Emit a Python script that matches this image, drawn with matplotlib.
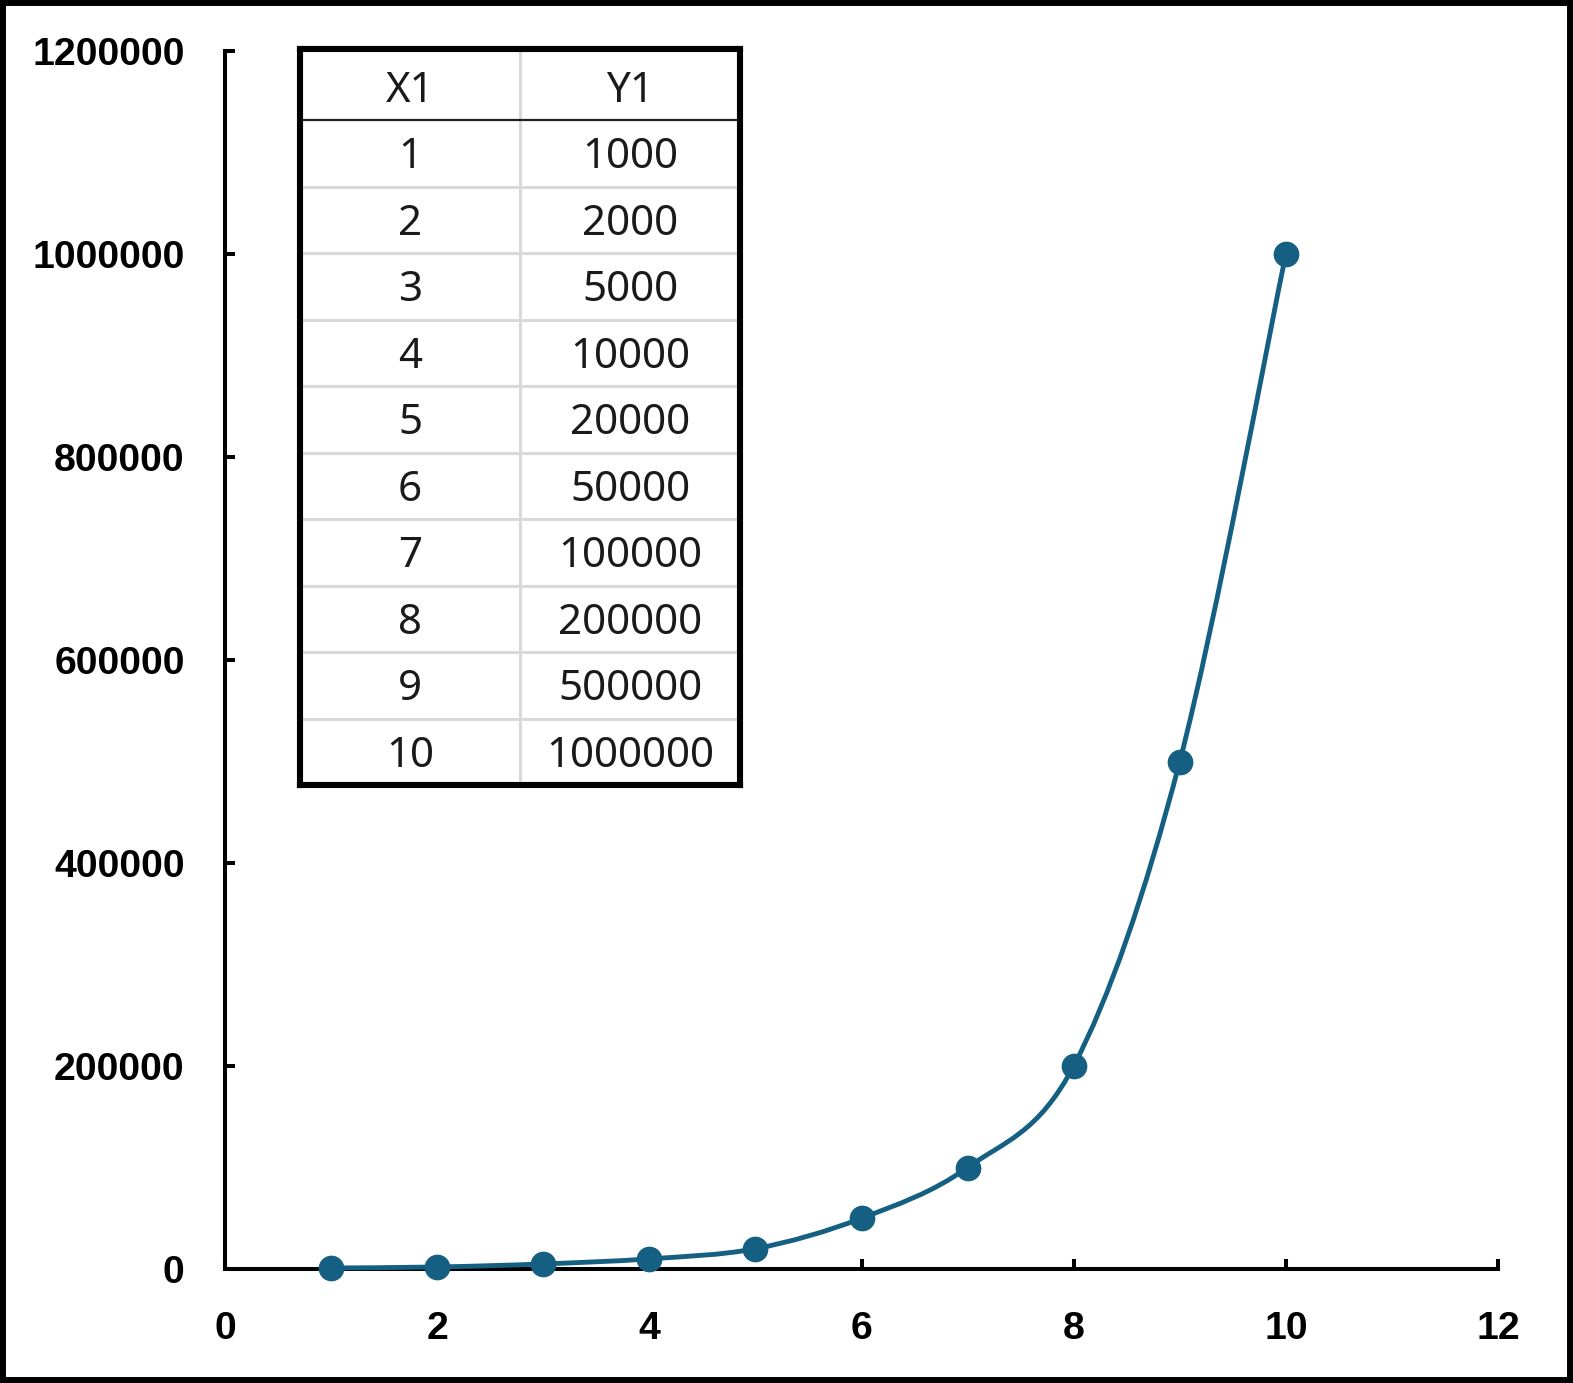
import matplotlib.pyplot as plt
import numpy as np
from matplotlib.path import Path
from matplotlib.patches import PathPatch, Rectangle

x1 = [1, 2, 3, 4, 5, 6, 7, 8, 9, 10]
y1 = [1000, 2000, 5000, 10000, 20000, 50000, 100000, 200000, 500000, 1000000]
col_labels = ['X1', 'Y1']
x_ticks = [0, 2, 4, 6, 8, 10, 12]
y_ticks = [0, 200000, 400000, 600000, 800000, 1000000, 1200000]

line_color = '#156082'
tick_font = 'Liberation Sans'
table_font = 'Noto Sans'


def smooth_path(xs, ys):
    # excel-like smoothed line: cubic bezier segments (catmull-rom style)
    pts = np.column_stack([xs, ys]).astype(float)
    n = len(pts)
    verts = [pts[0]]
    codes = [Path.MOVETO]
    for i in range(n - 1):
        p0 = pts[i - 1] if i > 0 else pts[i]
        p1 = pts[i]
        p2 = pts[i + 1]
        p3 = pts[i + 2] if i + 2 < n else pts[i + 1]
        c1 = p1 + (p2 - p0) / 6.0
        c2 = p2 - (p3 - p1) / 6.0
        verts += [c1, c2, p2]
        codes += [Path.CURVE4] * 3
    return Path(verts, codes)


W, H = 1573, 1383
fig = plt.figure(figsize=(W / 100, H / 100), dpi=100)

# main axes
ax = fig.add_axes([225 / W, 1 - 1269 / H, (1498 - 225) / W, (1269 - 51) / H])
ax.set_xlim(0, 12)
ax.set_ylim(0, 1200000)
ax.set_xticks(x_ticks)
ax.set_yticks(y_ticks)
ax.set_xticklabels([str(v) for v in x_ticks])
ax.set_yticklabels([str(v) for v in y_ticks])
for s in ['top', 'right']:
    ax.spines[s].set_visible(False)
for s in ['left', 'bottom']:
    ax.spines[s].set_linewidth(2.9)
    ax.spines[s].set_capstyle('projecting')
ax.tick_params(axis='both', direction='in', length=7, width=2.9,
               labelsize=28.3)
ax.tick_params(axis='y', pad=29)
ax.tick_params(axis='x', pad=30)
for lab in ax.get_xticklabels() + ax.get_yticklabels():
    lab.set_fontfamily(tick_font)
    lab.set_fontweight('bold')

ax.add_patch(PathPatch(smooth_path(x1, y1), fill=False, edgecolor=line_color,
                       lw=3.5, zorder=3, clip_on=False))
ax.plot(x1, y1, linestyle='none', marker='o', markersize=17.5,
        color=line_color, zorder=4, clip_on=False)

# data table inset
tx = fig.add_axes([300 / W, 1 - 785 / H, 440 / W, 736 / H])
nrows = len(x1)
head = 1.07
tx.set_xlim(0, 2)
tx.set_ylim(head + nrows, 0)
tx.set_xticks([])
tx.set_yticks([])
for s in tx.spines.values():
    s.set_linewidth(4.4)
    s.set_edgecolor('black')
tx.set_zorder(5)

grid = '#d9d9d9'
for i in range(1, nrows):
    tx.axhline(head + i, color=grid, lw=2.2, zorder=1)
tx.axvline(1, color=grid, lw=2.2, zorder=1)
tx.axhline(head, color='#202020', lw=1.6, zorder=2)

txt_kw = dict(ha='center', va='center', fontsize=30.3, family=table_font,
              color='#1a1a1a')
tx.text(0.5, head / 2 + 0.1, col_labels[0], **txt_kw)
tx.text(1.5, head / 2 + 0.1, col_labels[1], **txt_kw)
for i, (xv, yv) in enumerate(zip(x1, y1)):
    yc = head + i + 0.56
    tx.text(0.5, yc, str(xv), **txt_kw)
    tx.text(1.5, yc, str(yv), **txt_kw)

# outer frame around the whole picture
fig.patches.append(Rectangle((0, 0), 1, 1, transform=fig.transFigure,
                             fill=False, edgecolor='black', lw=8.6))

fig.savefig('out.png', dpi=100)
